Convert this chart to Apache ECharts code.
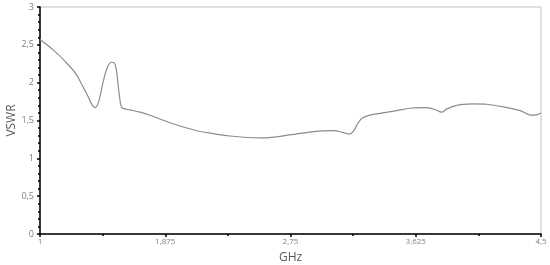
<!DOCTYPE html>
<html>
<head>
<meta charset="utf-8">
<script src="https://cdn.jsdelivr.net/npm/echarts@6/dist/echarts.min.js"></script>
<style>html,body{margin:0;padding:0;background:#fff}#c{width:550px;height:265px}</style>
</head>
<body>
<div id="c"></div>
<script>
var ghz = [1.0, 1.1, 1.186, 1.25, 1.291, 1.33, 1.36, 1.384, 1.41, 1.44, 1.47, 1.501, 1.52, 1.535, 1.55, 1.565, 1.58, 1.629, 1.699, 1.768, 1.908, 2.095, 2.2, 2.327, 2.45, 2.55, 2.677, 2.816, 2.95, 3.05, 3.12, 3.161, 3.19, 3.22, 3.25, 3.305, 3.375, 3.492, 3.6, 3.7, 3.76, 3.806, 3.84, 3.876, 3.94, 4.03, 4.12, 4.237, 4.354, 4.435, 4.47, 4.5];
var vswr = [2.57, 2.42, 2.26, 2.12, 1.98, 1.84, 1.72, 1.67, 1.75, 2.0, 2.2, 2.27, 2.26, 2.15, 1.9, 1.7, 1.66, 1.64, 1.61, 1.57, 1.47, 1.365, 1.33, 1.295, 1.275, 1.27, 1.29, 1.33, 1.36, 1.365, 1.34, 1.32, 1.36, 1.46, 1.53, 1.57, 1.595, 1.63, 1.665, 1.67, 1.645, 1.61, 1.65, 1.68, 1.71, 1.72, 1.715, 1.68, 1.63, 1.57, 1.575, 1.6];
var xTicks = [1, 1.875, 2.75, 3.625, 4.5];
var yTicks = [0, 0.5, 1, 1.5, 2, 2.5, 3];
var xStart = xTicks[0];

function fmt(v) { return String(+v.toFixed(4)).replace('.', ','); }

var chart = echarts.init(document.getElementById('c'), null, {renderer: 'canvas'});
chart.setOption({
  animation: false,
  grid: {left: 40, right: 9, top: 7, bottom: 31, containLabel: false, outerBoundsMode: 'none', show: true, borderColor: '#bfbfbf', borderWidth: 1},
  xAxis: {
    type: 'value', min: 0, max: xTicks[xTicks.length - 1] - xStart, interval: xTicks[1] - xTicks[0],
    name: 'GHz', nameLocation: 'middle', nameGap: 18, nameMoveOverlap: false,
    nameTextStyle: {color: '#595959', fontSize: 12, fontFamily: 'Open Sans'},
    axisLine: {lineStyle: {color: '#000', width: 1.5}},
    axisTick: {length: 3, lineStyle: {color: '#000', width: 1.5}},
    minorTick: {show: true, splitNumber: 2, length: 2, lineStyle: {color: '#000', width: 1.5}},
    axisLabel: {color: '#7f7f7f', fontSize: 8, margin: 4, fontFamily: 'Open Sans', formatter: function (v) { return fmt(v + xStart); }},
    splitLine: {show: false}
  },
  yAxis: {
    type: 'value', min: yTicks[0], max: yTicks[yTicks.length - 1], interval: yTicks[1] - yTicks[0],
    name: 'VSWR', nameLocation: 'middle', nameGap: 22, nameMoveOverlap: false,
    nameTextStyle: {color: '#595959', fontSize: 12, fontFamily: 'Open Sans'},
    axisLine: {show: true, lineStyle: {color: '#000', width: 1.5}},
    axisTick: {show: true, length: 3, lineStyle: {color: '#000', width: 1.5}},
    minorTick: {show: true, splitNumber: 5, length: 2, lineStyle: {color: '#000', width: 1.5}},
    axisLabel: {color: '#7f7f7f', fontSize: 9, margin: 6, fontFamily: 'Open Sans', formatter: fmt},
    splitLine: {show: false}
  },
  series: [{
    type: 'line',
    data: ghz.map(function (g, i) { return [g - xStart, vswr[i]]; }),
    showSymbol: false, symbol: 'none', smooth: 0.3,
    lineStyle: {color: '#8c8c8c', width: 1.2}
  }]
});
</script>
</body>
</html>
